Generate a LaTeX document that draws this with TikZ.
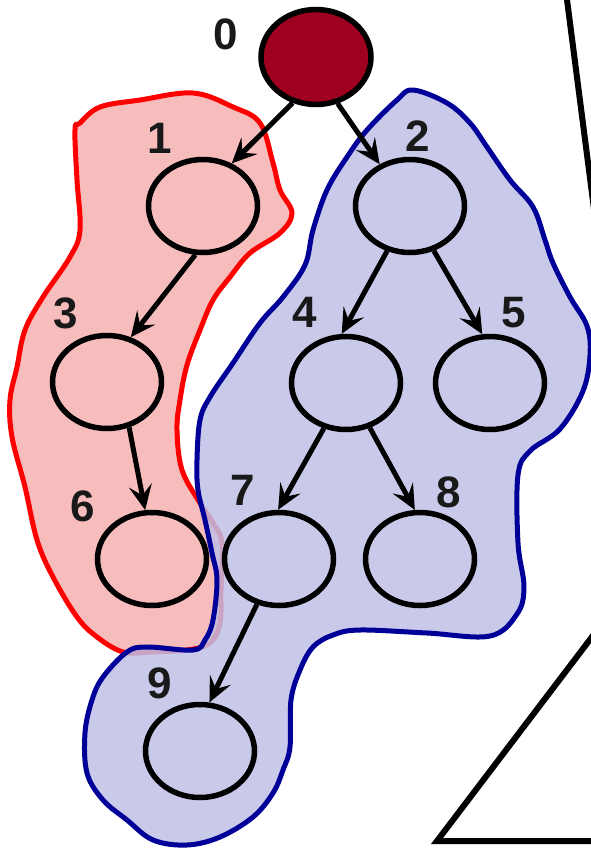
\documentclass[tikz,border=0pt]{standalone}
\usepackage{fontspec}
\setmainfont{Liberation Sans}
\usetikzlibrary{shapes.geometric,arrows.meta}
\definecolor{rootred}{RGB}{160,0,32}
\definecolor{setblue}{RGB}{0,0,153}
\definecolor{redfill}{RGB}{247,188,188}
\definecolor{bluefill}{RGB}{192,192,230}
\begin{document}
\begin{tikzpicture}[x=1pt,y=-1pt,
        vert/.style={ellipse,draw=black,line width=5.5pt,minimum width=109pt,minimum height=93pt,inner sep=0pt},
        num/.style={font=\fontsize{44}{44}\selectfont\bfseries,text=black!90,inner sep=0pt},
        arr/.style={line width=5pt,-{Stealth[length=25pt,width=23pt,inset=10pt]}}]
        \clip (0,0) rectangle (591,849);
        % the two sets
        \filldraw[draw=red,fill=redfill,line width=5pt] plot[smooth cycle,tension=0.6] coordinates {
            (80,123) (100,107) (140,100) (193,93) (233,107) (260,123) (273,163) (280,190) (292,213)
            (280,233) (250,253) (230,277) (213,300) (200,330) (187,365) (180,400) (177,430) (182,470)
            (200,503) (213,523) (222,543) (221,590) (220,623) (210,643) (187,650) (150,652) (123,652)
            (97,637) (77,617) (53,577) (37,540) (25,487) (12,437) (10,400) (17,367) (25,330) (43,297)
            (70,257) (80,230) (77,180) (75,130)};
        \filldraw[draw=setblue,fill=bluefill,fill opacity=0.85,line width=5pt] plot[smooth cycle,tension=0.6] coordinates {
            (413,90) (447,103) (470,123) (487,147) (510,180) (533,207) (545,240) (553,263) (570,297)
            (587,326) (590,355) (583,391) (560,429) (530,451) (518,475) (518,543) (524,587) (517,614)
            (490,636) (427,633) (360,630) (333,635) (313,647) (300,670) (291,700) (290,747) (283,770)
            (273,793) (253,817) (220,837) (187,845) (153,840) (127,820) (103,800) (87,773) (85,733)
            (92,700) (103,677) (127,652) (147,647) (193,650) (205,640) (213,620) (217,580) (212,553)
            (205,520) (198,490) (197,460) (200,420) (210,397) (233,363) (260,323) (283,297) (305,265)
            (313,230) (327,190) (347,157) (367,130) (397,100)};
        % lines at the right
        \draw[line width=6pt] (566,-8)--(598,240);
        \draw[line width=6pt] (620,600)--(437,841)--(600,841);
        % vertices
        \node[vert,fill=rootred,minimum width=110pt,minimum height=95pt] (n0) at (316,57) {};
        \node[vert] (n1) at (203,206) {};
        \node[vert] (n2) at (410,206) {};
        \node[vert] (n3) at (107,382) {};
        \node[vert] (n4) at (346,383) {};
        \node[vert] (n5) at (490,383) {};
        \node[vert] (n6) at (152,559) {};
        \node[vert] (n7) at (279,559) {};
        \node[vert] (n8) at (420,559) {};
        \node[vert] (n9) at (200,751) {};
        % numbers
        \node[num] (l0) at (226,34) {0};
        \node[num] (l1) at (160,138) {1};
        \node[num] (l2) at (418,136) {2};
        \node[num] (l3) at (66,313) {3};
        \node[num] (l4) at (305,312) {4};
        \node[num] (l5) at (514,313) {5};
        \node[num] (l6) at (83,506) {6};
        \node[num] (l7) at (243,490) {7};
        \node[num] (l8) at (449,492) {8};
        \node[num] (l9) at (160,683) {9};
        % edges
        \draw[arr] (n0.-117)--(n1.56);
        \draw[arr] (n0.-65)--(n2.126);
        \draw[arr] (n1.-99)--(n3.62);
        \draw[arr] (n2.-117)--(n4.95);
        \draw[arr] (n2.-62)--(n5.99);
        \draw[arr] (n3.-64)--(n6.98);
        \draw[arr] (n4.-116)--(n7.91);
        \draw[arr] (n4.-62)--(n8.96);
        \draw[arr] (n7.-116)--(n9.79);
\end{tikzpicture}
\end{document}
